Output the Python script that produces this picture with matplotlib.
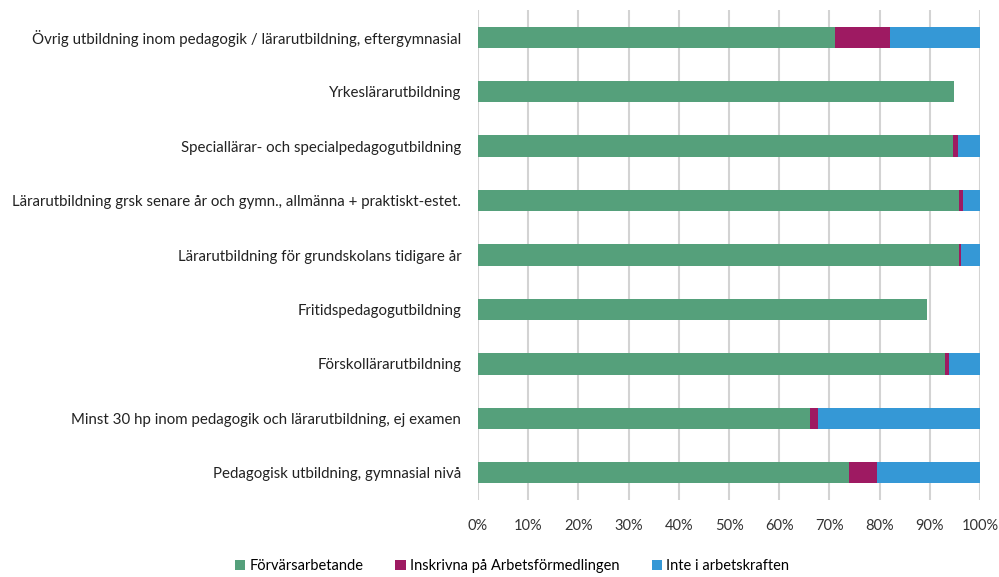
import matplotlib.pyplot as plt
import numpy as np

plt.rcParams['font.family'] = ['Lato', 'DejaVu Sans']

categories = [
    "Övrig utbildning inom pedagogik / lärarutbildning, eftergymnasial",
    "Yrkeslärarutbildning",
    "Speciallärar- och specialpedagogutbildning",
    "Lärarutbildning grsk senare år och gymn., allmänna + praktiskt-estet.",
    "Lärarutbildning för grundskolans tidigare år",
    "Fritidspedagogutbildning",
    "Förskollärarutbildning",
    "Minst 30 hp inom pedagogik och lärarutbildning, ej examen",
    "Pedagogisk utbildning, gymnasial nivå",
]
forvars = [71.2, 94.8, 94.6, 95.8, 95.8, 89.5, 93.0, 66.2, 73.9]
inskrivna = [10.8, 0.0, 1.0, 0.8, 0.5, 0.0, 0.8, 1.5, 5.6]
inte = [18.0, 0.0, 4.4, 3.4, 3.7, 0.0, 6.2, 32.3, 20.5]

series = ["Förvärsarbetande", "Inskrivna på Arbetsförmedlingen", "Inte i arbetskraften"]
colors = ["#55a07b", "#9e1a62", "#3598d6"]

fig = plt.figure(figsize=(9.99, 5.77), dpi=100)
ax = fig.add_axes([478 / 999, 77 / 577, 502 / 999, 490 / 577])

y = np.arange(len(categories))[::-1]
left = np.zeros(len(categories))
for vals, name, c in zip([forvars, inskrivna, inte], series, colors):
    vals = np.array(vals)
    ax.barh(y, vals, left=left, height=0.39, color=c, label=name, zorder=3)
    left += vals

ax.set_xlim(0, 100)
ax.set_ylim(-0.5, len(categories) - 0.5)
ax.set_xticks(np.arange(0, 101, 10))
ax.set_xticklabels([f"{v}%" for v in range(0, 101, 10)], fontsize=10.5, color="#333333")
ax.set_yticks(y)
ax.set_yticklabels(categories, fontsize=10.8, color="#222222")
ax.tick_params(axis='both', length=0)
ax.tick_params(axis='y', pad=12)
ax.tick_params(axis='x', pad=14)
ax.grid(axis='x', color="#d3d3d3", linewidth=1.5, zorder=0)
for s in ax.spines.values():
    s.set_visible(False)

fig.legend(loc='center', bbox_to_anchor=(512 / 999, 1 - 566 / 577), ncol=3, frameon=False,
           fontsize=10.5, handlelength=0.7, handleheight=0.7, handletextpad=0.3, columnspacing=2.2)

fig.savefig("out.png", dpi=100)
